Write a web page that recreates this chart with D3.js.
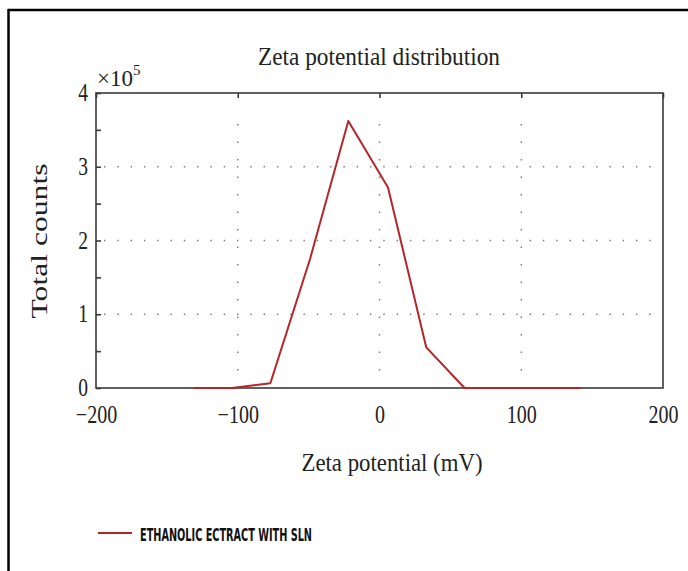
<!DOCTYPE html>
<html>
<head>
<meta charset="utf-8">
<script src="https://cdn.jsdelivr.net/npm/d3@7"></script>
<style>
  body { margin: 0; background: #fff; }
  svg { display: block; }
</style>
</head>
<body>
<svg id="chart" width="688" height="571"></svg>
<script>
// zeta potential (mV) and total counts (x1e5)
const zeta = [-131, -104, -77, -49, -22, 6, 33, 60, 88, 115, 142];
const counts = [0, 0, 0.065, 1.75, 3.62, 2.72, 0.55, 0, 0, 0, 0];
const xTicks = [-200, -100, 0, 100, 200];
const yTicks = [0, 1, 2, 3, 4];
const seriesName = 'ETHANOLIC ECTRACT WITH SLN';

const svg = d3.select('#chart');
const margin = {left: 96, top: 93, right: 25, bottom: 183};
const width = +svg.attr('width');
const height = +svg.attr('height');
const serif = '"Liberation Serif", "DejaVu Serif", serif';
const red = '#b5252a';
const axisColor = '#3a3a3a';

const x = d3.scaleLinear().domain([-200, 200]).range([margin.left, width - margin.right]);
const y = d3.scaleLinear().domain([0, 4]).range([height - margin.bottom, margin.top]);

// squeeze text horizontally, the source font is narrow
function squeeze(sel, k) {
    sel.each(function() {
        const w = this.getComputedTextLength();
        d3.select(this).attr('textLength', w * k).attr('lengthAdjust', 'spacingAndGlyphs');
    });
}

// outer frame (top and left only)
svg.append('line').attr('x1', 8).attr('x2', width).attr('y1', 10).attr('y2', 10)
    .attr('stroke', '#000').attr('stroke-width', 2.5);
svg.append('line').attr('x1', 8.5).attr('x2', 8.5).attr('y1', 9).attr('y2', height)
    .attr('stroke', '#000').attr('stroke-width', 2.5);

// grid
svg.append('g')
    .selectAll('line')
    .data(yTicks.filter(d => d > 0 && d < 4))
    .enter()
    .append('line')
    .attr('x1', x(-200) + 8).attr('x2', x(200) - 8)
    .attr('y1', d => y(d)).attr('y2', d => y(d))
    .attr('stroke', '#777').attr('stroke-width', 1.4)
    .attr('stroke-dasharray', '1.4,11.9');

svg.append('g')
    .selectAll('line')
    .data(xTicks.filter(d => d > -200 && d < 200))
    .enter()
    .append('line')
    .attr('x1', d => x(d)).attr('x2', d => x(d))
    .attr('y1', y(4) + 31).attr('y2', y(0) - 5)
    .attr('stroke', '#777').attr('stroke-width', 1.4)
    .attr('stroke-dasharray', '1.4,16.1');

// plot box
svg.append('rect')
    .attr('x', x(-200)).attr('y', y(4))
    .attr('width', x(200) - x(-200)).attr('height', y(0) - y(4))
    .attr('fill', 'none').attr('stroke', axisColor).attr('stroke-width', 1.6);

// left axis, ticks inside
const yAxis = d3.axisLeft(y)
    .tickValues(d3.range(0, 4.01, 0.5))
    .tickSize(-5)
    .tickFormat(d => Number.isInteger(d) ? d : '');
const gy = svg.append('g').attr('transform', `translate(${x(-200)},0)`).call(yAxis);
gy.select('.domain').remove();
gy.selectAll('.tick line').attr('stroke', axisColor).attr('stroke-width', 1.6);
gy.selectAll('.tick text')
    .attr('x', -8).attr('dy', '0.3em')
    .attr('font-family', serif).attr('font-size', 25).attr('fill', '#222')
    .call(squeeze, 0.78);

// top ticks
const gt = svg.append('g').attr('transform', `translate(0,${y(4)})`)
    .call(d3.axisTop(x).tickValues(xTicks).tickSize(-5).tickFormat(''));
gt.select('.domain').remove();
gt.selectAll('.tick line').attr('stroke', axisColor).attr('stroke-width', 1.6);

// bottom axis labels
const gx = svg.append('g').attr('transform', `translate(0,${y(0)})`)
    .call(d3.axisBottom(x).tickValues(xTicks).tickSize(0).tickFormat(d => d < 0 ? '\u2212' + Math.abs(d) : d));
gx.select('.domain').remove();
gx.selectAll('.tick text')
    .attr('y', 17).attr('dy', '0.71em')
    .attr('font-family', serif).attr('font-size', 25).attr('fill', '#222')
    .call(squeeze, 0.8);

// line
const line = d3.line().x((d, i) => x(zeta[i])).y(d => y(d));
svg.append('path')
    .datum(counts)
    .attr('d', line)
    .attr('fill', 'none')
    .attr('stroke', red)
    .attr('stroke-width', 2)
    .attr('stroke-linejoin', 'round');

// texts
svg.append('text')
    .attr('x', 379).attr('y', 65)
    .attr('text-anchor', 'middle')
    .attr('font-family', serif).attr('font-size', 25).attr('fill', '#222')
    .text('Zeta potential distribution')
    .attr('textLength', 242).attr('lengthAdjust', 'spacingAndGlyphs');

const exp = svg.append('text')
    .attr('x', 97).attr('y', 86)
    .attr('font-family', serif).attr('font-size', 23).attr('fill', '#222');
exp.append('tspan').text('\u00d710');
exp.append('tspan').attr('dy', -11).attr('font-size', 15).text('5');

svg.append('text')
    .attr('x', 392).attr('y', 471)
    .attr('text-anchor', 'middle')
    .attr('font-family', serif).attr('font-size', 25).attr('fill', '#222')
    .text('Zeta potential (mV)')
    .attr('textLength', 181).attr('lengthAdjust', 'spacingAndGlyphs');

svg.append('text')
    .attr('transform', 'translate(47,241) rotate(-90)')
    .attr('text-anchor', 'middle')
    .attr('font-family', serif).attr('font-size', 23).attr('fill', '#222')
    .text('Total counts')
    .attr('textLength', 155).attr('lengthAdjust', 'spacingAndGlyphs');

// legend
svg.append('line')
    .attr('x1', 98).attr('x2', 132).attr('y1', 533).attr('y2', 533)
    .attr('stroke', red).attr('stroke-width', 2);
svg.append('text')
    .attr('x', 140).attr('y', 541)
    .attr('font-family', '"Liberation Sans Narrow", "DejaVu Sans Condensed", sans-serif')
    .attr('font-weight', 'bold').attr('font-size', 18).attr('fill', '#111')
    .text(seriesName)
    .attr('textLength', 172).attr('lengthAdjust', 'spacingAndGlyphs');
</script>
</body>
</html>
